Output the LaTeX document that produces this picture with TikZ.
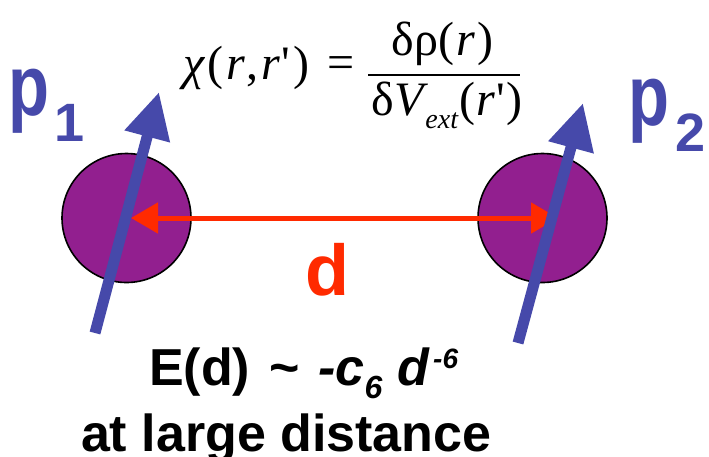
\documentclass[tikz,border=0pt]{standalone}
\usepackage{fontspec}
\setmainfont{Liberation Sans}
\newfontfamily\tms{Liberation Serif}
\usetikzlibrary{arrows.meta}
\definecolor{pblue}{HTML}{4649AA}
\definecolor{ppurple}{HTML}{921F8F}
\definecolor{pred}{HTML}{FF2A00}
\tikzset{
  txt/.style={inner sep=0pt, outer sep=0pt, anchor=base west},
  atom/.style={circle, draw=black, line width=1.6pt, fill=ppurple, minimum size=129pt, inner sep=0pt},
  dipole/.style={draw=pblue, line width=11pt, -{Triangle[length=46pt,width=44pt]}},
  dist/.style={draw=pred, line width=5pt, {Triangle[length=27pt,width=30pt]}-{Triangle[length=27pt,width=30pt]}},
  mathf/.style={font=\tms\fontsize{48}{48}\selectfont}
}
\begin{document}
\begin{tikzpicture}[x=1pt,y=-1pt]
\useasboundingbox (0,0) rectangle (709,456);
% atoms
\node[atom] (a1) at (126.5,218) {};
\node[atom] (a2) at (542.5,218) {};
% distance arrow
\coordinate (d1) at (131,218);
\coordinate (d2) at (558,218);
\draw[dist] (d1) -- (d2);
% dipoles
\coordinate (p1s) at (95,333);
\coordinate (p1e) at (159,92);
\coordinate (p2s) at (518,343);
\coordinate (p2e) at (583,103);
\draw[dipole] (p1s) -- (p1e);
\draw[dipole] (p2s) -- (p2e);
% labels p1, p2
\node[txt, text=pblue, font=\bfseries] (lp1) at (9,115) {\fontsize{86}{86}\selectfont\scalebox{0.78}[1]{p}\hspace{5pt}\fontsize{54}{54}\selectfont\raisebox{-26pt}{1}};
\node[txt, text=pblue, font=\bfseries] (lp2) at (628,125) {\fontsize{86}{86}\selectfont\scalebox{0.78}[1]{p}\hspace{7pt}\fontsize{54}{54}\selectfont\raisebox{-26pt}{2}};
% d label
\node[txt, text=pred, font=\bfseries\fontsize{72}{72}\selectfont] (ld) at (305,295) {d};
% formula
\node[txt, mathf] (lhs) at (183,79) {\textit{χ}\kern2pt(\kern3pt\textit{r}\kern2pt,\kern3pt\textit{r}\kern1pt'\kern3pt)};
\node[inner sep=0pt, mathf] (eq) at (341.5,68) {=};
\coordinate (b1) at (368,75);
\coordinate (b2) at (520,75);
\draw[line width=1.8pt] (b1) -- (b2);
\node[inner sep=0pt, anchor=base, mathf] (num) at (442.5,55) {δρ(\kern2pt\textit{r}\kern2pt)};
\node[inner sep=0pt, anchor=base, mathf] (den) at (447,115) {δ\textit{V}\kern-3pt\raisebox{-13pt}{\fontsize{28}{28}\selectfont\textit{ext}}\kern1pt(\kern1pt\textit{r}\kern1pt'\kern1pt)};
% energy text
\node[txt, font=\bfseries\fontsize{52}{52}\selectfont] (e1) at (149,385) {E(d)\hspace{19pt}\textasciitilde\hspace{19pt}\textit{-c\raisebox{-13pt}{\fontsize{32}{32}\selectfont 6}\hspace{15pt}d\kern4pt\raisebox{17pt}{\fontsize{28}{28}\selectfont -6}}};
\node[txt, font=\bfseries\fontsize{52}{52}\selectfont] (e2) at (81,451) {at large distance};
\end{tikzpicture}
\end{document}
